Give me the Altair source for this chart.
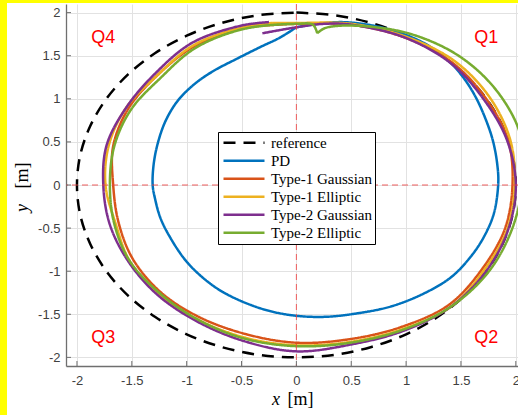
import altair as alt
import pandas as pd

# ---------------- data ----------------
series = ["reference", "PD", "Type-1 Gaussian", "Type-1 Elliptic",
          "Type-2 Gaussian", "Type-2 Elliptic"]
colors = ["#000000", "#0072BD", "#D95319", "#EDB120", "#7E2F8E", "#77AC30"]

ref_x = [0.0, 0.347, 0.684, 1.0, 1.286, 1.532, 1.732, 1.879, 1.970, 2.0,
         1.970, 1.879, 1.732, 1.532, 1.286, 1.0, 0.684, 0.347, 0.0,
         -0.347, -0.684, -1.0, -1.286, -1.532, -1.732, -1.879, -1.970, -2.0,
         -1.970, -1.879, -1.732, -1.532, -1.286, -1.0, -0.684, -0.347, 0.0]
ref_y = [2.0, 1.970, 1.879, 1.732, 1.532, 1.286, 1.0, 0.684, 0.347, 0.0,
         -0.347, -0.684, -1.0, -1.286, -1.532, -1.732, -1.879, -1.970, -2.0,
         -1.970, -1.879, -1.732, -1.532, -1.286, -1.0, -0.684, -0.347, 0.0,
         0.347, 0.684, 1.0, 1.286, 1.532, 1.732, 1.879, 1.970, 2.0]

pd_x = [0.00, 0.20, 0.40, 0.60, 0.80, 1.00, 1.20, 1.38, 1.52, 1.63, 1.72, 1.79,
        1.83, 1.84, 1.80, 1.71, 1.59, 1.41, 1.16, 0.86, 0.55, 0.25, -0.05,
        -0.33, -0.63, -0.81, -1.00, -1.15, -1.24, -1.29, -1.31, -1.30, -1.26,
        -1.19, -1.08, -0.93, -0.76, -0.55, -0.33, -0.15, 0.00]
pd_y = [1.83, 1.87, 1.89, 1.87, 1.82, 1.74, 1.62, 1.45, 1.25, 1.03, 0.78, 0.52,
        0.25, 0.02, -0.33, -0.60, -0.83, -1.07, -1.26, -1.41, -1.49, -1.53, -1.51,
        -1.43, -1.27, -1.12, -0.89, -0.61, -0.38, -0.15, 0.00, 0.25, 0.50,
        0.75, 0.98, 1.17, 1.32, 1.46, 1.60, 1.71, 1.83]

t1g_x = [-0.30, -0.17, 0.00, 0.50, 0.99, 1.42, 1.73, 1.93, 1.97, 1.90, 1.69,
         1.39, 0.95, 0.48, 0.00, -0.46, -0.89, -1.24, -1.49, -1.62, -1.67,
         -1.67, -1.53, -1.27, -0.93, -0.49, -0.30]
t1g_y = [1.85, 1.86, 1.87, 1.86, 1.71, 1.42, 1.00, 0.52, 0.00, -0.51, -0.98,
         -1.39, -1.65, -1.79, -1.83, -1.73, -1.53, -1.24, -0.86, -0.44, 0.00,
         0.45, 0.89, 1.27, 1.61, 1.82, 1.85]

t1e_x = [-0.22, 0.00, 0.50, 1.00, 1.44, 1.76, 1.95, 1.99, 1.92, 1.71, 1.41,
         0.97, 0.49, 0.00, -0.47, -0.90, -1.26, -1.52, -1.65, -1.74, -1.71,
         -1.55, -1.27, -0.94, -0.49, -0.22]
t1e_y = [1.88, 1.88, 1.87, 1.72, 1.44, 1.02, 0.52, 0.00, -0.52, -0.99, -1.41,
         -1.67, -1.82, -1.86, -1.77, -1.56, -1.26, -0.88, -0.44, 0.00, 0.46,
         0.90, 1.27, 1.62, 1.83, 1.88]

t2g_x = [-0.31, 0.00, 0.25, 0.50, 0.99, 1.41, 1.71, 1.92, 2.00, 1.93, 1.73,
         1.41, 0.98, 0.50, 0.00, -0.48, -0.91, -1.27, -1.53, -1.70, -1.76,
         -1.73, -1.55, -1.29, -0.95, -0.50, -0.25]
t2g_y = [1.76, 1.83, 1.87, 1.86, 1.71, 1.41, 0.99, 0.52, 0.00, -0.52, -1.00,
         -1.41, -1.69, -1.85, -1.93, -1.81, -1.58, -1.27, -0.89, -0.46, 0.00,
         0.46, 0.90, 1.29, 1.65, 1.85, 1.89]

t2e_x = [0.19, 0.26, 0.50, 1.02, 1.49, 1.84, 2.05, 2.06, 1.96, 1.75, 1.41,
         0.97, 0.49, 0.00, -0.48, -0.90, -1.25, -1.52, -1.66, -1.70, -1.66,
         -1.51, -1.24, -0.92, -0.48, 0.00, 0.15, 0.19]
t2e_y = [1.76, 1.82, 1.85, 1.76, 1.49, 1.07, 0.55, 0.00, -0.53, -1.01, -1.41,
         -1.68, -1.83, -1.87, -1.78, -1.56, -1.25, -0.88, -0.45, 0.00, 0.45,
         0.87, 1.24, 1.59, 1.81, 1.87, 1.86, 1.76]

q_labels = ["Q4", "Q1", "Q3", "Q2"]
q_x = [-1.76, 1.73, -1.76, 1.73]
q_y = [1.71, 1.71, -1.77, -1.77]

tick_values = [-2, -1.5, -1, -0.5, 0, 0.5, 1, 1.5, 2]

# ---------------- tables ----------------
all_x = [ref_x, pd_x, t1g_x, t1e_x, t2g_x, t2e_x]
all_y = [ref_y, pd_y, t1g_y, t1e_y, t2g_y, t2e_y]
rows = []
for name, xs, ys in zip(series, all_x, all_y):
    for i, (a, b) in enumerate(zip(xs, ys)):
        rows.append({"series": name, "i": i, "x": a, "y": b})
df = pd.DataFrame(rows)
q_df = pd.DataFrame({"label": q_labels, "x": q_x, "y": q_y})
tick_df = pd.DataFrame({"x": tick_values, "y": tick_values})
zero_df = pd.DataFrame({"x": [0], "y": [0]})
one = pd.DataFrame({"a": [0]})

W, H = 452, 362
xscale = alt.Scale(domain=[-2.1, 2.02], nice=False, zero=False)
yscale = alt.Scale(domain=[-2.1, 2.1], nice=False, zero=False)
AXC = "#6f6f6f"


def axis(pad):
    return alt.Axis(values=tick_values, grid=True, gridColor="#e2e2e2",
                    gridWidth=1, tickSize=0, domainColor=AXC, domainWidth=1.3,
                    labelFont="Liberation Sans", labelFontSize=13,
                    labelColor="#404040", labelPadding=pad,
                    labelExpr="'' + datum.value", title=None)


X = alt.X("x:Q", scale=xscale, axis=axis(8))
Y = alt.Y("y:Q", scale=yscale, axis=axis(6))

legend = alt.Legend(title=None, orient="none", legendX=152, legendY=128,
                    symbolType="stroke", symbolSize=1681, symbolStrokeWidth=2.5,
                    labelFont="Liberation Serif", labelFontSize=15,
                    labelColor="black", strokeColor="black", fillColor="white",
                    padding=2, clipHeight=17.6, rowPadding=0, labelOffset=5,
                    symbolOffset=2, labelLimit=300)

dashes = [[12, 8], [1, 0], [1, 0], [1, 0], [1, 0], [1, 0]]

lines = alt.Chart(df).mark_line(strokeWidth=2.5, clip=True,
                                interpolate="catmull-rom").encode(
    x=X, y=Y,
    color=alt.Color("series:N", scale=alt.Scale(domain=series, range=colors),
                    legend=legend),
    strokeDash=alt.StrokeDash("series:N",
                              scale=alt.Scale(domain=series, range=dashes),
                              legend=legend),
    order=alt.Order("i:Q"),
)

vrule = alt.Chart(zero_df).mark_rule(color="#ee4444", strokeDash=[6, 4],
                                     strokeWidth=1, opacity=0.85).encode(x=X)
hrule = alt.Chart(zero_df).mark_rule(color="#ee4444", strokeDash=[6, 4],
                                     strokeWidth=1, opacity=0.85).encode(y=Y)

xt = alt.Chart(tick_df).mark_rule(color=AXC, strokeWidth=1).encode(
    x=X, y=alt.value(H), y2=alt.value(H - 5))
yt = alt.Chart(tick_df).mark_rule(color=AXC, strokeWidth=1).encode(
    y=Y, x=alt.value(0), x2=alt.value(5))

qtext = alt.Chart(q_df).mark_text(font="Liberation Sans", fontSize=18,
                                  color="#ff0000", align="center",
                                  baseline="middle").encode(
    x=X, y=Y, text="label:N")


def label(txt, x, y, italic=False, angle=0):
    kw = dict(text=txt, font="Liberation Serif", fontSize=18, color="black",
              align="center", baseline="middle")
    if italic:
        kw["fontStyle"] = "italic"
    if angle:
        kw["angle"] = angle
    return alt.Chart(one).mark_text(**kw).encode(x=alt.value(x), y=alt.value(y))


xt1 = label("x", 210, 396, italic=True)
xt2 = label("[m]", 234.5, 396)
yt1 = label("y", -43, 204, italic=True, angle=270)
yt2 = label("[m]", -43, 171.5, angle=270)

yl = alt.Chart(one).mark_rect(color="#ffff00").encode(
    x=alt.value(-66), x2=alt.value(-59), y=alt.value(-4), y2=alt.value(H + 49))
ytop = alt.Chart(one).mark_rect(color="#ffff00").encode(
    x=alt.value(-66), x2=alt.value(W), y=alt.value(-4), y2=alt.value(-1))

chart = alt.layer(lines, vrule, hrule, qtext, xt, yt,
                  xt1, xt2, yt1, yt2, yl, ytop).properties(
    width=W, height=H,
    padding={"left": 66, "top": 4, "right": 0, "bottom": 49},
    autosize=alt.AutoSizeParams(type="none"),
    background="white",
).configure_view(strokeWidth=0)

chart.save("out.html", embed_options={"renderer": "svg", "actions": False})
